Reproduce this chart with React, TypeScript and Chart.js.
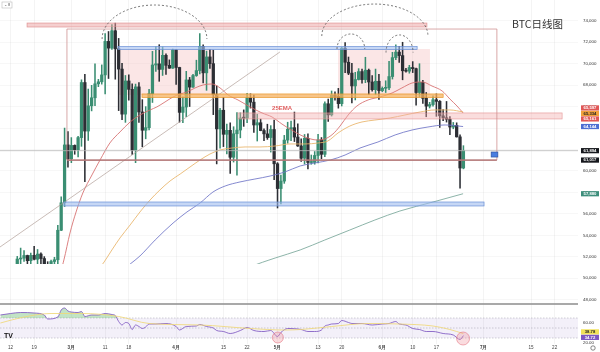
import React, { useEffect, useRef } from "react";
import { Chart, registerables } from "chart.js";

Chart.register(...registerables);

// ---- Daily candles: index 0 = 2024-02-10 ... index 136 = 2024-06-25 ----
const opens = [
  47132,47751,48299,49917,49699,51795,51880,52124,51642,52137,
  51774,52259,51839,51304,50732,51565,51729,54477,57037,62432,
  61130,62387,61987,63113,68245,63724,66074,66824,68124,68313,
  68955,72078,71452,73072,71388,69499,65300,68393,67610,61937,
  67840,65501,63796,64037,67211,69880,69988,69469,70780,69850,
  69582,71280,69649,65463,65963,68487,67820,68897,69360,71620,
  69147,70631,70006,67116,63924,65661,63419,63793,61277,63470,
  63818,64941,64926,66819,66414,64289,64498,63770,63461,63118,
  63866,60672,58364,59060,62882,63892,64038,63161,62334,61187,
  63049,60792,60793,61448,62901,61553,66267,65231,67051,66940,
  66278,71448,70136,69122,67929,68526,69265,68518,69394,68296,
  67578,68364,67491,67706,67751,68804,70567,71082,70757,69342,
  69305,69648,69540,67314,68263,66773,66044,66191,66639,66491,
  65140,64960,64828,64096,64252,63180,60277
];
const highs = [
  48200,48592,50334,50368,52043,52816,52572,52160,52346,52985,
  52683,52370,52020,51548,51698,51958,54938,57588,64000,63676,
  63114,62433,63231,68499,69000,67637,67985,69990,68541,69887,
  72800,73000,73650,73777,72357,70043,68904,68957,68124,68100,
  68240,66650,65999,67622,71150,71561,71769,71552,70916,70357,
  71366,71288,69674,66903,69291,68725,69009,70327,72797,71758,
  71172,71305,71256,67932,65840,66867,64365,64499,64125,65450,
  65419,65695,67233,67199,67075,65297,64837,63923,64360,64228,
  64734,60780,59625,63320,64544,64646,65494,64390,62995,63404,
  63469,61490,61818,63422,63118,66454,66712,67459,67387,67700,
  71515,71979,70623,70041,69195,69541,69508,70600,69504,68897,
  69500,69019,67839,68409,70230,71063,71758,71625,71997,69560,
  69852,70195,69590,69999,68450,67315,66402,66998,67188,66566,
  65727,66482,65066,64525,64491,63369,62360
];
const lows = [
  46800,47557,47710,48300,49225,51314,51566,50625,51163,51715,
  50625,50821,50935,50521,50585,51280,50901,54450,56690,60364,
  60777,61561,61320,62300,59005,62848,65602,66082,67861,68094,
  67194,68620,71333,68555,65630,64780,64533,66594,61555,60775,
  64529,62260,63000,63825,66385,69280,68359,68903,69009,69562,
  69562,68062,64550,64493,65064,66011,67800,68822,69043,68210,
  67519,69567,65254,60660,62134,62274,61600,59768,60833,59600,
  63090,64160,64500,65864,63589,62794,63747,62824,62948,61765,
  59191,56552,56937,58848,62588,62822,62746,62285,60888,60648,
  60187,60631,60632,60749,61142,61330,64613,65119,66600,65858,
  66060,69162,68977,66356,66622,68481,68183,68232,67118,67443,
  67118,66676,67386,67315,67589,68567,70383,70119,68500,69210,
  69114,69172,66124,66918,66304,65056,65871,66034,65094,64060,
  64693,64559,63379,63935,63160,58402,60200
];
const closes = [
  47751,48299,49917,49699,51795,51880,52124,51642,52137,51774,
  52259,51839,51304,50732,51565,51729,54477,57037,62432,61130,
  62387,61987,63113,68245,63724,66074,66824,68124,68313,68955,
  72078,71452,73072,71388,69499,65300,68393,67610,61937,67840,
  65501,63796,64037,67211,69880,69988,69469,70780,69850,69582,
  71280,69649,65463,65963,68487,67820,68897,69360,71620,69147,
  70631,70006,67116,63924,65661,63419,63793,61277,63470,63818,
  64941,64926,66819,66414,64289,64498,63770,63461,63118,63866,
  60672,58364,59060,62882,63892,64038,63161,62334,61187,63049,
  60792,60793,61448,62901,61553,66267,65231,67051,66940,66278,
  71448,70136,69122,67929,68526,69265,68518,69394,68296,67578,
  68364,67491,67706,67751,68804,70567,71082,70757,69342,69305,
  69648,69540,67314,68263,66773,66044,66191,66639,66491,65140,
  64960,64828,64096,64252,63180,60277,61894
];

// ---- Moving averages (day index, price) ----
const ema25Days = [9.8,12.8,16.1,17.8,19.6,21.4,23.4,26.1,28.5,31.4,34.4,37.4,40.3,43.3,45.3,47.7,50.1,52.2,54.2,56.6,59.0,61.6,64.0,66.4,69.3,72.9,76.4,79.4,82.3,85.6,89.1,92.7,95.0,97.4,99.5,101.9,104.5,107.8,111.3,114.9,117.8,120.8,123.8,126.7,129.7,132.0,134.1,135.9];
const ema25Vals = [47700,48820,49840,51710,54220,56180,57950,59630,61030,62610,63640,64570,65220,65690,65970,66430,66900,67180,67360,67740,68020,68110,67740,67080,66620,65970,65410,65030,64380,63730,63170,62890,62980,63450,64190,65220,66060,66620,66900,67270,67740,68200,68300,67920,67460,66710,66060,65410];
const ema50Days = [22.6,24.9,27.3,29.7,32.0,34.4,37.4,40.3,43.3,46.2,49.2,52.2,55.1,58.1,61.0,64.0,67.5,71.4,75.8,80.3,84.7,89.1,93.0,95.9,98.9,102.4,106.0,109.8,114.3,118.7,123.2,127.6,132.0,135.9];
const ema50Vals = [47700,49100,50490,51520,52640,53760,54970,56180,57300,58230,59070,59720,60370,61030,61580,61960,62140,62240,62240,62330,62520,62520,62610,62800,63540,64190,64570,64750,64940,65220,65500,65690,65690,65500];
const ema100Days = [27.6,30.8,34.4,37.4,40.3,44.8,50.1,54.2,58.1,61.9,65.5,69.9,74.3,78.8,83.2,87.7,92.1,96.7,101.0,105.4,110.7,115.8,120.8,125.5,130.6,135.9];
const ema100Vals = [47700,49100,50590,51330,52080,53570,55150,56180,57020,58040,58600,58980,59250,59530,59910,60470,60750,61030,61490,62140,62700,63360,63820,64100,64290,64144];
const ema200Days = [53.0,58.1,65.5,72.9,80.3,87.7,95.0,102.4,109.8,117.2,127.0,135.9];
const ema200Vals = [47700,48630,49840,51050,51890,52640,53570,54500,55430,56270,57110,57880];

// ---- RSI pane ----
const rsiDays = [-1,2,5,9,12,13,16,17,18,19,20,22,23,24,26,28,30,32,33,34,35,36,37,38,39,40,41,42,43,45,48,51,52,54,57,58,60,62,63,65,67,70,72,74,77,79,81,82,84,88,90,92,94,95,96,97,99,100,102,103,106,109,112,114,116,117,119,121,123,125,127,130,133,135,136];
const rsiVals = [76,79,81,80,76,68,72,86,90,84,82,81,83,73,76,76,79,77,75,63,56,61,59,47,56,53,49,52,58,58,59,53,46,53,54,57,53,50,45,43,39,45,51,45,43,45,33,41,49,47,43,43,46,54,56,58,59,65,61,59,59,56,58,59,63,58,56,49,47,43,43,39,36,27,34.72];
const rsiMaDays = [-1,6,14,23,34,43,58,73,83,88,97,108,117,127,132,136];
const rsiMaVals = [60,72,79,79,73,59,56,49,46,47,53,59,58,54,47,38.78];

// ---- Axis ticks ----
const xTickDays = [2,9,20,30,37,51,65,72,81,93,100,112,121,128,142,156,163];
const xTickLabels = ["12","19","3月","11","18","4月","15","22","5月","13","20","6月","10","17","7月","15","22"];
const monthTicks = new Set([20,51,81,112,142]);
const priceTicks: number[] = [];
for (let v = 48000; v <= 75000; v += 1000) priceTicks.push(v);
const rsiTicks = [20,40,60,80];

// ---- Right-axis value labels ----
const priceLabelValues = [65597,65334,65161,64144,61894,61017,57880];
const priceLabelBg = ["#e05757","#f2a13c","#e05757","#4d6fd3","#16181d","#16181d","#3d8e7b"];
const priceLabelFg = ["#fff","#222","#fff","#fff","#fff","#fff","#fff"];
const rsiLabelValues = [38.78,34.72];
const rsiLabelBg = ["#f2e25a","#7e57c2"];
const rsiLabelFg = ["#222","#fff"];

// ---- Drawings in data units (day index, price) ----
const X_MIN = -1.107, X_MAX = 169.9;
const P_MIN = 47604, P_MAX = 75937;
const R_MIN = 18, R_MAX = 98;

const zones = [
  { i0: 33.8, i1: 61.9, p0: 67080, p1: 71370 },
  { i0: 98.9, i1: 126.1, p0: 67080, p1: 71370 },
];
const bands = [
  { i0: 6.9, i1: 125.2, p0: 73420, p1: 73790, fill: "rgba(236,160,160,0.5)", stroke: "rgba(222,140,140,0.9)" },
  { i0: 33.8, i1: 122.3, p0: 71320, p1: 71600, fill: "rgba(160,188,238,0.6)", stroke: "#6a90d6" },
  { i0: 40.9, i1: 130.0, p0: 66850, p1: 67180, fill: "rgba(246,178,96,0.75)", stroke: "#e8972f" },
  { i0: 69.3, i1: 165.2, p0: 64850, p1: 65410, fill: "rgba(242,175,175,0.42)", stroke: "rgba(226,140,140,0.8)" },
  { i0: 17.8, i1: 142.1, p0: 56740, p1: 57110, fill: "rgba(160,188,238,0.6)", stroke: "#6a90d6" },
];
const box = { i0: 18.7, i1: 145.9, p0: 61017, p1: 73230 };
const trend = { i0: -1.107, p0: 52917, i1: 81.7, p1: 71090 };
const arcs = [
  { ci: 44.6, hw: 15.5, base: 72300, peak: 75470 },
  { ci: 109.8, hw: 15.7, base: 72580, peak: 75560 },
  { ci: 102.7, hw: 4.1, base: 71370, peak: 72770 },
  { ci: 117.1, hw: 4.0, base: 71040, peak: 72680 },
];
const rsiCircles = [ { i: 81.1, v: 31, r: 5.5 }, { i: 135.9, v: 29, r: 6.5 } ];
const lastPrice = 61894;
const flag = { i0: 144.2, i1: 146.2, p0: 61300, p1: 61770 };
const titleText = { i: 150.4, p: 73700, text: "BTC日线图" };
const emaText = { i: 79.4, p: 65830, text: "25EMA" };

const UP = "#3a8e72";
const DOWN = "#2c2e34";
const FONT = "'Liberation Sans', Arial, sans-serif";

function resolveLabels(items: { y: number }[], h: number) {
  items.sort((a, b) => a.y - b.y);
  for (let it = 0; it < 40; it++) {
    for (let k = 1; k < items.length; k++) {
      const gap = items[k].y - items[k - 1].y;
      if (gap < h) {
        const d = (h - gap) / 2;
        items[k].y += d;
        items[k - 1].y -= d;
      }
    }
  }
}

const overlayPlugin = {
  id: "overlays",
  beforeDatasetsDraw(chart: any) {
    const { ctx, chartArea, scales } = chart;
    const xs = scales.x, ys = scales.y, rs = scales.yRsi;
    const left = chartArea.left, right = chartArea.right;
    ctx.save();
    const r70 = rs.getPixelForValue(70), r30 = rs.getPixelForValue(30);
    ctx.fillStyle = "rgba(126,87,194,0.09)";
    ctx.fillRect(left, r70, right - left, r30 - r70);
    ctx.strokeStyle = "rgba(110,110,130,0.55)";
    ctx.lineWidth = 0.6;
    ctx.setLineDash([1.5, 1.5]);
    for (const v of [70, 50, 30]) {
      const y = rs.getPixelForValue(v);
      ctx.beginPath(); ctx.moveTo(left, y); ctx.lineTo(right, y); ctx.stroke();
    }
    ctx.restore();

    ctx.save();
    ctx.beginPath(); ctx.rect(left, ys.top, right - left, ys.bottom - ys.top); ctx.clip();
    ctx.fillStyle = "rgba(243,180,180,0.33)";
    for (const z of zones) {
      const x0 = xs.getPixelForValue(z.i0), x1 = xs.getPixelForValue(z.i1);
      const y0 = ys.getPixelForValue(z.p1), y1 = ys.getPixelForValue(z.p0);
      ctx.fillRect(x0, y0, x1 - x0, y1 - y0);
    }
    ctx.restore();
  },
  afterDatasetsDraw(chart: any) {
    const { ctx, chartArea, scales } = chart;
    const xs = scales.x, ys = scales.y, rs = scales.yRsi;
    const left = chartArea.left, right = chartArea.right;
    const X = (v: number) => xs.getPixelForValue(v);
    const Y = (v: number) => ys.getPixelForValue(v);

    ctx.save();
    ctx.beginPath(); ctx.rect(left, ys.top, right - left, ys.bottom - ys.top); ctx.clip();

    ctx.strokeStyle = "#b8b8b8"; ctx.lineWidth = 0.8;
    ctx.beginPath(); ctx.moveTo(left, Y(lastPrice)); ctx.lineTo(right, Y(lastPrice)); ctx.stroke();

    ctx.strokeStyle = "rgba(175,155,148,0.85)"; ctx.lineWidth = 0.8;
    ctx.beginPath(); ctx.moveTo(X(trend.i0), Y(trend.p0)); ctx.lineTo(X(trend.i1), Y(trend.p1)); ctx.stroke();

    for (const b of bands) {
      const x0 = X(b.i0), x1 = X(b.i1), y0 = Y(b.p1), y1 = Y(b.p0);
      ctx.fillStyle = b.fill; ctx.fillRect(x0, y0, x1 - x0, y1 - y0);
      ctx.strokeStyle = b.stroke; ctx.lineWidth = 0.7; ctx.strokeRect(x0, y0, x1 - x0, y1 - y0);
    }

    const bx0 = X(box.i0), bx1 = X(box.i1), by0 = Y(box.p1), by1 = Y(box.p0);
    ctx.strokeStyle = "rgba(205,140,140,0.85)"; ctx.lineWidth = 0.9;
    ctx.beginPath(); ctx.moveTo(bx0, by1); ctx.lineTo(bx0, by0); ctx.lineTo(bx1, by0); ctx.lineTo(bx1, by1); ctx.stroke();
    ctx.strokeStyle = "rgba(180,120,120,0.9)"; ctx.lineWidth = 1.8;
    ctx.beginPath(); ctx.moveTo(bx0, by1); ctx.lineTo(bx1, by1); ctx.stroke();

    ctx.fillStyle = "#4a7ee0"; ctx.strokeStyle = "#2b4d96"; ctx.lineWidth = 0.6;
    const fx0 = X(flag.i0), fx1 = X(flag.i1), fy0 = Y(flag.p1), fy1 = Y(flag.p0);
    ctx.fillRect(fx0, fy0, fx1 - fx0, fy1 - fy0); ctx.strokeRect(fx0, fy0, fx1 - fx0, fy1 - fy0);

    ctx.strokeStyle = "#555"; ctx.lineWidth = 0.8; ctx.setLineDash([2, 2]);
    for (const a of arcs) {
      const cx = X(a.ci), cy = Y(a.base);
      const rx = X(a.ci + a.hw) - cx, ry = cy - Y(a.peak);
      ctx.beginPath(); ctx.ellipse(cx, cy, rx, ry, 0, Math.PI, 2 * Math.PI); ctx.stroke();
    }
    ctx.setLineDash([]);

    ctx.fillStyle = "#e06060"; ctx.font = `bold 6px ${FONT}`; ctx.textBaseline = "middle"; ctx.textAlign = "left";
    ctx.fillText(emaText.text, X(emaText.i), Y(emaText.p));
    ctx.fillStyle = "#333"; ctx.font = "10.5px 'Noto Sans CJK SC', sans-serif";
    ctx.fillText(titleText.text, X(titleText.i), Y(titleText.p));
    ctx.restore();

    ctx.save();
    ctx.strokeStyle = "#8d8d8d"; ctx.lineWidth = 1.5;
    ctx.beginPath(); ctx.moveTo(left, ys.bottom); ctx.lineTo(right, ys.bottom); ctx.stroke();
    for (const c of rsiCircles) {
      ctx.beginPath(); ctx.arc(X(c.i), rs.getPixelForValue(c.v), c.r, 0, Math.PI * 2);
      ctx.fillStyle = "rgba(240,140,150,0.3)"; ctx.fill();
      ctx.strokeStyle = "rgba(225,95,110,0.7)"; ctx.lineWidth = 0.7; ctx.stroke();
    }
    ctx.restore();
  },
  afterDraw(chart: any) {
    const { ctx, chartArea, scales } = chart;
    const ys = scales.y, rs = scales.yRsi;
    const bx = chartArea.right + 3, bw = 18, bh = 5.2;
    const drawSet = (vals: number[], bg: string[], fg: string[], sc: any, fmt: (v: number) => string) => {
      const items = vals.map((v, k) => ({ y: sc.getPixelForValue(v), text: fmt(v), bg: bg[k], fg: fg[k] }));
      resolveLabels(items, bh + 0.3);
      for (const it of items as any[]) {
        ctx.fillStyle = it.bg;
        ctx.fillRect(bx, it.y - bh / 2, bw, bh);
        ctx.fillStyle = it.fg;
        ctx.font = `bold 4.2px ${FONT}`;
        ctx.textAlign = "center"; ctx.textBaseline = "middle";
        ctx.fillText(it.text, bx + bw / 2, it.y + 0.2);
      }
    };
    ctx.save();
    drawSet(priceLabelValues, priceLabelBg, priceLabelFg, ys, (v) => v.toLocaleString("en-US"));
    drawSet(rsiLabelValues, rsiLabelBg, rsiLabelFg, rs, (v) => v.toFixed(2));
    ctx.strokeStyle = "#bbb"; ctx.lineWidth = 0.6; ctx.fillStyle = "#fff";
    ctx.fillRect(2, 2, 10, 6); ctx.strokeRect(2, 2, 10, 6);
    ctx.fillStyle = "#555"; ctx.font = `4px ${FONT}`; ctx.textAlign = "center"; ctx.textBaseline = "middle";
    ctx.fillText("⌄ 8", 7, 5);
    ctx.fillStyle = "#111"; ctx.font = `bold 7px ${FONT}`; ctx.textAlign = "left";
    ctx.fillText("TV", 4, 336);
    ctx.strokeStyle = "#555"; ctx.lineWidth = 0.7;
    ctx.beginPath(); ctx.arc(593, 348, 2.2, 0, Math.PI * 2); ctx.stroke();
    ctx.restore();
  },
};

const noPadV = (w: number) => (s: any) => { s.width = w; s.paddingTop = 0; s.paddingBottom = 0; };

export default function App() {
  const ref = useRef<HTMLCanvasElement | null>(null);
  useEffect(() => {
    const canvas = ref.current;
    if (!canvas) return;
    const clipPrice = { left: 0, top: 0, right: 0, bottom: -40 };
    const bodyColors = closes.map((c, k) => (c >= opens[k] ? UP : DOWN));
    const line = (days: number[], vals: number[], color: string, axis: string, extra: any = {}) => ({
      type: "line",
      data: days.map((d, k) => ({ x: d, y: vals[k] })),
      borderColor: color,
      borderWidth: 0.85,
      pointRadius: 0,
      cubicInterpolationMode: "monotone",
      yAxisID: axis,
      xAxisID: "x",
      order: 1,
      ...extra,
    });
    const chart = new Chart(canvas, {
      type: "bar",
      data: {
        datasets: [
          {
            type: "bar",
            data: lows.map((l, k) => ({ x: k, y: [l, highs[k]] })),
            backgroundColor: bodyColors,
            barThickness: 0.9,
            grouped: false,
            order: 5,
            yAxisID: "y",
            xAxisID: "x",
            clip: clipPrice,
          },
          {
            type: "bar",
            data: opens.map((o, k) => ({ x: k, y: [Math.min(o, closes[k]), Math.max(o, closes[k])] })),
            backgroundColor: bodyColors,
            barThickness: 2.6,
            minBarLength: 1,
            grouped: false,
            order: 4,
            yAxisID: "y",
            xAxisID: "x",
            clip: clipPrice,
          },
          line(ema200Days, ema200Vals, "#79a69a", "y", { clip: clipPrice }),
          line(ema100Days, ema100Vals, "#6e74c6", "y", { clip: clipPrice }),
          line(ema50Days, ema50Vals, "#e8b368", "y", { clip: clipPrice }),
          line(ema25Days, ema25Vals, "#d66c6c", "y", { clip: clipPrice }),
          line(rsiMaDays, rsiMaVals, "#f0d878", "yRsi"),
          line(rsiDays, rsiVals, "#7e57c2", "yRsi", {
            fill: { target: { value: 70 }, above: "rgba(80,175,90,0.35)", below: "rgba(0,0,0,0)" },
          }),
        ] as any,
      },
      options: {
        animation: false,
        responsive: false,
        devicePixelRatio: 1,
        layout: { padding: 0 },
        plugins: { legend: { display: false }, tooltip: { enabled: false } },
        scales: {
          x: {
            type: "linear",
            min: X_MIN,
            max: X_MAX,
            offset: false,
            grid: { color: "rgba(0,0,0,0.045)", drawTicks: false, offset: false },
            border: { display: false },
            afterBuildTicks: (s: any) => { s.ticks = xTickDays.map((v) => ({ value: v })); },
            afterFit: (s: any) => { s.height = 8; s.paddingLeft = 0; s.paddingRight = 0; },
            ticks: {
              autoSkip: false,
              maxRotation: 0,
              padding: 1,
              color: "#444",
              font: (c: any) => ({ size: 4.6, family: FONT, weight: monthTicks.has(c.tick && c.tick.value) ? "bold" : "normal" }),
              callback: (v: any) => { const k = xTickDays.indexOf(Number(v)); return k >= 0 ? xTickLabels[k] : ""; },
            },
          },
          y: {
            type: "linear",
            position: "right",
            stack: "panes",
            stackWeight: 304,
            min: P_MIN,
            max: P_MAX,
            beginAtZero: false,
            grid: { color: "rgba(0,0,0,0.03)", drawTicks: false },
            border: { display: false },
            afterBuildTicks: (s: any) => { s.ticks = priceTicks.map((v) => ({ value: v })); },
            afterFit: noPadV(22),
            ticks: {
              padding: 5,
              color: "#333",
              font: { size: 4.4, family: FONT },
              callback: (v: any) => Number(v).toLocaleString("en-US"),
            },
          },
          yRsi: {
            type: "linear",
            position: "right",
            stack: "panes",
            stackWeight: 40,
            min: R_MIN,
            max: R_MAX,
            beginAtZero: false,
            grid: { display: false, drawTicks: false },
            border: { display: false },
            afterBuildTicks: (s: any) => { s.ticks = rsiTicks.map((v) => ({ value: v })); },
            afterFit: noPadV(22),
            ticks: {
              padding: 5,
              color: "#333",
              font: { size: 4.4, family: FONT },
              callback: (v: any) => Number(v).toFixed(2),
            },
          },
        },
      } as any,
      plugins: [overlayPlugin as any],
    });
    return () => chart.destroy();
  }, []);
  return (
    <div style={{ position: "fixed", left: 0, top: 0, width: 600, height: 352, background: "#fff" }}>
      <canvas ref={ref} width={600} height={352} style={{ width: 600, height: 352, display: "block" }} />
    </div>
  );
}
